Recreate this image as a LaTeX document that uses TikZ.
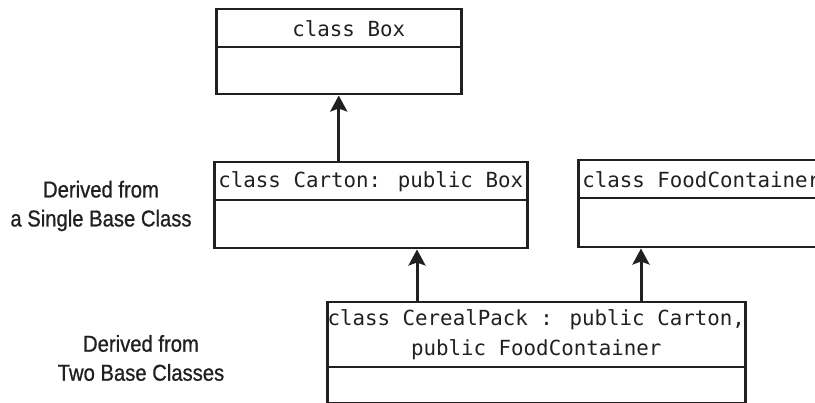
\documentclass[tikz,border=0pt]{standalone}
\usepackage{fontspec}
\usetikzlibrary{arrows.meta}
\newfontfamily\monofam{DejaVu Sans Mono}
\newfontfamily\labfam{Liberation Sans}[FakeStretch=0.88,FakeBold=0.8]
\definecolor{ink}{HTML}{231F20}
\begin{document}
\begin{tikzpicture}[x=1pt,y=-1pt,
  ttl/.style={draw=ink, line width=2.5pt, inner sep=0pt, anchor=north west, text=ink,
    font=\fontsize{20.8pt}{30pt}\selectfont\monofam, align=center},
  bdy/.style={draw=ink, line width=2.5pt, inner sep=0pt, anchor=north west},
  arr/.style={draw=ink, line width=3pt, -{Stealth[length=16pt,width=17pt,inset=3pt]}},
  lab/.style={text=ink, align=center, font=\fontsize{23pt}{29pt}\selectfont\labfam}]
\useasboundingbox (0,0) rectangle (815,403);
% class Box
\node[ttl, minimum width=245pt, minimum height=38pt] (boxt) at (215,8) {\hspace*{20pt}class Box};
\node[bdy, minimum width=245pt, minimum height=47pt] (boxb) at (215,46) {};
% class Carton
\node[ttl, minimum width=313pt, minimum height=38pt] (cartt) at (213,161) {class Carton: public Box};
\node[bdy, minimum width=313pt, minimum height=48pt] (cartb) at (213,199) {};
% class FoodContainer
\node[ttl, minimum width=246pt, minimum height=38pt] (foodt) at (577,159) {class FoodContainer};
\node[bdy, minimum width=246pt, minimum height=49pt] (foodb) at (577,197) {};
% class CerealPack
\node[ttl, minimum width=418pt, minimum height=65pt] (cert) at (326,301) {class CerealPack : public Carton,\\public FoodContainer};
\node[bdy, minimum width=418pt, minimum height=36pt] (cerb) at (326,366) {};
% arrows
\coordinate (a1) at (417,0);
\coordinate (a2) at (641,0);
\draw[arr] (cartt.north -| boxb.south) -- (boxb.south);
\draw[arr] (cert.north -| a1) -- (cartb.south -| a1);
\draw[arr] (cert.north -| a2) -- (foodb.south -| a2);
% labels
\node[lab] (l1) at (101,206) {Derived from\\a Single Base Class};
\node[lab] (l2) at (141,358) {Derived from\\Two Base Classes};
\end{tikzpicture}
\end{document}
